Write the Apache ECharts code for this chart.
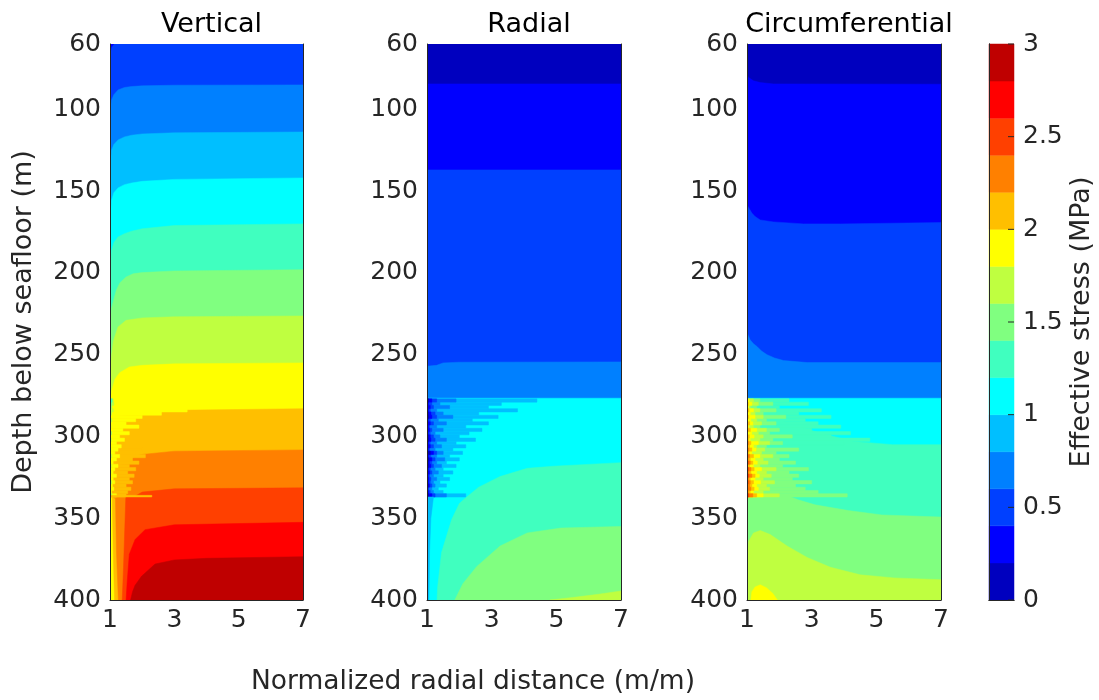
<!DOCTYPE html>
<html><head><meta charset="utf-8">
<script src="https://cdn.jsdelivr.net/npm/echarts@6/dist/echarts.min.js"></script>
<style>html,body{margin:0;padding:0;background:#fff}#c{width:1099px;height:700px}</style>
</head><body><div id="c"></div>
<script>
// ================= DATA =================
const panelTitles = ['Vertical', 'Radial', 'Circumferential'];
const xTicks = [1, 3, 5, 7];
const depthTicks = [60, 100, 150, 200, 250, 300, 350, 400];
const stressEdges = [0, 0.2, 0.4, 0.6, 0.8, 1.0, 1.2, 1.4, 1.6, 1.8, 2.0, 2.2, 2.4, 2.6, 2.8, 3.0];
const stressTicks = [0, 0.5, 1, 1.5, 2, 2.5, 3];
const xLabel = 'Normalized radial distance (m/m)';
const yLabel = 'Depth below seafloor (m)';
const cLabel = 'Effective stress (MPa)';

// depth slices of the noisy zone (m)
const noiseDepths = [277,279,281,283,285,287,289,291,293,295,297,299,301,303,305,307,309,311,313,315,317,319,321,323,325,327,329,331,333,335,337];

// ---- Vertical: upper contour edges [x, depth]; band level below each edge
const vertEdgeLevels = [3, 4, 5, 6, 7, 8, 9, 10, 11, 12, 13, 14, 15];
const vertEdges = [
  [[1,60],[7,60]],
  [[1,100],[1.05,94.2],[1.12,91],[1.25,88.1],[1.45,86.6],[1.67,86],[2,85.6],[3,85.2],[7,85]],
  [[1,135],[1.05,124.8],[1.12,121.5],[1.25,118.7],[1.45,116.8],[1.67,115.8],[2,115],[3,114.3],[7,113.8]],
  [[1,168],[1.05,155.4],[1.12,151],[1.25,148],[1.45,146],[1.67,145],[2,144],[3,142.8],[7,141.9]],
  [[1,198],[1.05,186],[1.12,181.5],[1.25,178],[1.45,176],[1.67,174.5],[2,173],[3,171],[7,170]],
  [[1,235],[1.04,222],[1.08,219],[1.2,210.4],[1.31,206],[1.5,202.5],[1.72,200.5],[2,199.8],[3,198.8],[7,198]],
  [[1,262],[1.05,250],[1.1,242],[1.25,233],[1.5,229],[2,227.5],[3,226.8],[7,226.3]],
  [[1.04,400],[1.02,360],[1.01,338],[1,337],[1,280],[1.05,272],[1.15,265],[1.3,261],[1.6,257.5],[2,256.5],[3,255.6],[7,255]],
  [[1.14,400],[1.1,370],[1.07,338],[1.02,336],[1.02,288],[1.5,287],[2,285.5],[3,284],[7,283]],
  [[1.26,400],[1.2,370],[1.17,338],[1.04,336.5],[1.04,318],[1.47,317],[1.78,312],[2,311],[3,309],[7,308.2]],
  [[1.38,400],[1.42,380],[1.47,350],[1.49,338],[1.49,337],[1.78,336.5],[2,334],[3,332],[7,331.4]],
  [[1.5,400],[1.53,390],[1.6,372],[1.78,363],[2.09,357],[3,354],[7,352.5]],
  [[1.64,400],[1.7,395],[1.78,391],[1.98,385.5],[2.4,378],[3,375.5],[4,374.5],[7,373.5]]
];
const vertPatchLevels = [2, 11];
const vertPatches = [
  [[1,60],[1.12,60],[1.04,62],[1,66]],
  [[1,336],[2.3,336],[2.3,337],[1,337]]
];
const vertNoiseLevels = [11, 10, 9, 8, 7];
const vertNoiseEnds = [
  [0,0,0,0,0,0,0,0,0,0,0,0,0,0,0,2.0,1.8,2.1,1.7,1.9,1.6,1.8,1.55,1.75,1.6,1.7,1.5,1.65,1.55,1.5],
  [0,0,0,3.4,2.6,2.0,1.8,1.5,1.9,1.4,1.6,1.3,1.45,1.2,1.35,1.25,1.15,1.3,1.2,1.1,1.25,1.15,1.1,1.2,1.1,1.15,1.08,1.12,1.05,1.2],
  [1.1,1.12,1.06,1.1,1.04,0,1.06,0,1.03,0,1.05,0,1.04,0,0,1.03,0,1.05,0,0,1.04,0,1.03,0,0,1.05,0,0,1.03,1.06],
  [1.08,1.05,1.04,0,1.03,0,0,1.02,0,0,1.03,0,0,0,0,0,1.02,0,0,0,0,1.02,0,0,0,0,0,0,0,0],
  [1.05,1.03,0,0,0,0,0,0,0,0,0,0,0,0,0,0,0,0,0,0,0,0,0,0,0,0,0,0,0,0]
];

// ---- Radial
const radEdgeLevels = [1, 2, 3, 4, 6, 7, 8, 9];
const radEdges = [
  [[1,60],[7,60]],
  [[1,84.4],[7,84.4]],
  [[1,137],[7,137]],
  [[1,257],[1.3,256.5],[1.5,255],[2,254.6],[7,254.4]],
  [[1,276.6],[7,276.6]],
  [[1.31,400],[1.33,392],[1.45,371],[1.76,351],[2,341],[2.2,337.5],[2.6,331],[3.26,324.5],[4.1,319.5],[4.9,318.2],[7,316]],
  [[1.86,400],[2.11,390],[2.54,379.5],[3.26,367],[4.1,359],[5.14,356],[7,355]],
  [[4.8,400],[5.5,398.5],[6.3,396.5],[7,394.5]]
];
const radPatchLevels = [5];
const radPatches = [ [[1,337],[1.2,337],[1.12,350],[1.08,370],[1.06,400],[1,400]] ];
const radNoiseLevels = [5, 4, 3, 2, 1];
const radNoiseEnds = [
  [4.4,3.3,2.9,3.8,2.6,3.2,2.4,2.9,2.2,2.7,2.3,2.0,2.5,1.9,2.2,1.8,2.1,1.7,2.0,1.6,1.9,1.5,1.8,1.5,1.7,1.4,1.6,1.35,1.5,2.2],
  [1.9,1.4,1.7,1.3,1.5,1.8,1.35,1.6,1.3,1.5,1.25,1.4,1.6,1.3,1.45,1.25,1.5,1.3,1.55,1.3,1.45,1.25,1.35,1.2,1.3,1.2,1.25,1.15,1.2,1.6],
  [1.3,1.15,1.2,1.1,1.25,1.3,1.1,1.2,1.08,1.15,1.1,1.2,1.25,1.1,1.2,1.08,1.3,1.12,1.25,1.15,1.2,1.1,1.15,1.08,1.12,1.1,1.15,1.05,1.1,1.25],
  [1.15,1.05,1.1,1.05,1.12,1.15,1.04,1.1,1.05,1.08,1.04,1.1,1.12,1.05,1.1,1.04,1.2,1.06,1.15,1.08,1.12,1.05,1.08,1.04,1.06,1.05,1.08,1.03,1.05,1.15],
  [1.05,0,1.03,0,1.04,1.06,0,1.03,0,0,0,1.04,1.05,0,1.03,0,1.1,0,1.06,1.04,1.05,0,1.03,0,0,0,1.04,0,0,1.05]
];

// ---- Circumferential
const circEdgeLevels = [1, 2, 3, 4, 6, 7, 8, 9];
const circEdges = [
  [[1,60],[7,60]],
  [[1,79],[1.05,80.5],[1.2,82.5],[1.41,83.6],[1.82,84.4],[7,84.6]],
  [[1,158.4],[1.08,161],[1.15,163.4],[1.25,165.5],[1.41,167.6],[1.82,168.8],[2.75,170],[3.9,170],[7,169.2]],
  [[1,236.7],[1.1,241],[1.2,243.3],[1.31,245],[1.45,247.8],[1.62,250],[1.85,252],[2.13,253.6],[2.86,254.8],[7,254.8]],
  [[1,276.6],[7,276.6]],
  [[1,280],[1.3,281],[1.72,285.6],[2.24,291.8],[3.27,298],[4.3,303],[5.5,305],[7,305]],
  [[1,336],[2.3,336.5],[2.58,338.7],[3.1,341.8],[4.13,345.3],[5.17,348],[7,349.3]],
  [[1,385],[1.02,372],[1.05,364],[1.2,359],[1.41,357.5],[1.72,360],[2.24,367],[2.86,374],[3.58,380],[4.5,384.6],[5.55,386.5],[7,387.6]]
];
const circPatchLevels = [10];
const circPatches = [ [[1.12,400],[1.15,395],[1.25,392],[1.41,390.7],[1.6,392.5],[1.8,396],[1.94,400]] ];
const circNoiseLevels = [7, 8, 9, 10, 11, 12, 13];
const circNoiseEnds = [
  [2.3,2.9,2.0,3.3,2.6,3.6,2.8,3.2,3.9,3.0,4.2,3.6,4.8,4.0,0,0,0,0,0,0,0,0,0,0,0,0,0,0,0,0],
  [1.4,1.8,1.3,1.9,1.5,2.2,1.6,1.9,1.4,2.0,1.7,2.4,1.8,2.1,1.6,2.6,1.9,2.3,2.0,2.5,2.1,2.9,2.3,2.6,2.4,3.0,2.5,2.8,3.2,4.1],
  [1.2,1.35,1.1,1.4,1.25,1.5,1.3,1.45,1.2,1.6,1.35,1.5,1.4,1.7,1.3,1.55,1.45,1.8,1.5,1.65,1.4,1.9,1.6,1.75,1.5,1.85,1.6,1.7,1.5,2.0],
  [1.08,1.15,1.05,1.2,1.1,1.25,1.12,1.18,1.06,1.3,1.15,1.22,1.1,1.35,1.2,1.28,1.15,1.4,1.25,1.32,1.2,1.45,1.3,1.38,1.25,1.42,1.3,1.35,1.2,1.5],
  [0,1.04,0,1.06,0,1.05,0,1.08,1.03,1.1,0,1.07,1.05,1.12,1.08,1.15,1.06,1.2,1.1,1.18,1.08,1.22,1.12,1.25,1.1,1.2,1.15,1.22,1.1,1.3],
  [0,0,0,0,0,0,0,0,0,1.03,0,0,0,1.05,0,1.06,0,1.08,1.04,1.1,0,1.12,1.06,1.15,1.05,1.1,1.08,1.12,1.04,1.18],
  [0,0,0,0,0,0,0,0,0,0,0,0,0,0,0,0,0,1.03,0,1.04,0,1.05,0,1.06,0,1.04,0,1.03,0,1.06]
];

// ================= STYLE / BUILD =================
const jet = ['#0000bf','#0000ff','#0040ff','#0080ff','#00bfff','#00ffff','#40ffbf','#80ff80','#bfff40','#ffff00','#ffbf00','#ff8000','#ff4000','#ff0000','#bf0000'];
const FONT = 'DejaVu Sans';
const AX = '#262626';
const grids = [
  {left: 110, top: 44, width: 193, height: 556},
  {left: 427, top: 44, width: 194, height: 556},
  {left: 747, top: 44, width: 194, height: 556},
  {left: 989, top: 44, width: 25, height: 556}
];

function buildPolys(edges, edgeLevels, patches, patchLevels, noiseLevels, noiseEnds) {
  const polys = [];
  edges.forEach((e, i) => {
    const pts = e.slice();
    pts.push([7, 400], [e[0][0], 400]);
    polys.push({level: edgeLevels[i], pts});
  });
  noiseLevels.forEach((lv, k) => {
    noiseEnds[k].forEach((xe, j) => {
      if (xe > 1) {
        const d0 = noiseDepths[j], d1 = noiseDepths[j + 1];
        polys.push({level: lv, pts: [[1, d0], [xe, d0], [xe, d1], [1, d1]]});
      }
    });
  });
  patches.forEach((p, i) => polys.push({level: patchLevels[i], pts: p}));
  return polys;
}

function panelSeries(gi, polys) {
  return {
    type: 'custom', coordinateSystem: 'cartesian2d', xAxisIndex: gi, yAxisIndex: gi,
    clip: true, silent: true, animation: false, z: 2,
    data: polys.map(p => p.pts[0]),
    renderItem: (params, api) => {
      const p = polys[params.dataIndex];
      const c = jet[p.level - 1];
      return {type: 'polygon', shape: {points: p.pts.map(q => api.coord(q))},
        style: {fill: c, stroke: c, lineWidth: 0.5}};
    }
  };
}

const panels = [
  buildPolys(vertEdges, vertEdgeLevels, vertPatches, vertPatchLevels, vertNoiseLevels, vertNoiseEnds),
  buildPolys(radEdges, radEdgeLevels, radPatches, radPatchLevels, radNoiseLevels, radNoiseEnds),
  buildPolys(circEdges, circEdgeLevels, circPatches, circPatchLevels, circNoiseLevels, circNoiseEnds)
];

const labelStyle = {fontFamily: FONT, fontSize: 25, color: AX};
const xAxes = [], yAxes = [], series = [], titles = [];
for (let g = 0; g < 3; g++) {
  xAxes.push({gridIndex: g, type: 'value', min: 1, max: 7, interval: 2, z: 10,
    axisLine: {show: true, lineStyle: {color: AX, width: 1}}, axisTick: {show: false},
    splitLine: {show: false}, axisLabel: Object.assign({margin: 8, customValues: xTicks}, labelStyle)});
  yAxes.push({gridIndex: g, type: 'value', inverse: true, min: 60, max: 400, z: 10,
    axisLine: {show: true, lineStyle: {color: AX, width: 1}},
    axisTick: {show: false}, splitLine: {show: false},
    axisLabel: Object.assign({margin: 9, customValues: depthTicks}, labelStyle),
    name: g === 0 ? yLabel : '', nameLocation: 'middle', nameGap: 73, nameRotate: 90,
    nameTextStyle: {fontFamily: FONT, fontSize: 27, color: AX}});
  series.push(panelSeries(g, panels[g]));
  titles.push({text: panelTitles[g], left: grids[g].left + grids[g].width / 2, top: 6, textAlign: 'center',
    textStyle: {fontFamily: FONT, fontSize: 27, fontWeight: 'normal', color: '#000'}});
}
// right border lines of panels
const yRight = [];
for (let g = 0; g < 3; g++) {
  yRight.push({gridIndex: g, type: 'value', position: 'right', inverse: true, min: 60, max: 400, z: 10,
    axisLine: {show: true, lineStyle: {color: AX, width: 1}}, axisTick: {show: false},
    axisLabel: {show: false}, splitLine: {show: false}});
}
// colorbar axes
xAxes.push({gridIndex: 3, type: 'value', min: 0, max: 1, z: 10, axisLine: {show: true, lineStyle: {color: AX}},
  axisTick: {show: false}, axisLabel: {show: false}, splitLine: {show: false}});
xAxes.push({gridIndex: 3, type: 'value', position: 'top', min: 0, max: 1, z: 10, axisLine: {show: true, lineStyle: {color: AX}},
  axisTick: {show: false}, axisLabel: {show: false}, splitLine: {show: false}});
const cbY = {gridIndex: 3, type: 'value', position: 'right', min: 0, max: 3, interval: 0.5, z: 10,
  axisLine: {show: true, lineStyle: {color: AX}},
  axisTick: {show: false},
  axisLabel: Object.assign({margin: 9, customValues: stressTicks, formatter: v => String(v)}, labelStyle),
  splitLine: {show: false},
  name: cLabel, nameLocation: 'middle', nameGap: 54, nameRotate: 90,
  nameTextStyle: {fontFamily: FONT, fontSize: 27, color: AX}};
const cbYLeft = {gridIndex: 3, type: 'value', position: 'left', min: 0, max: 3, z: 10,
  axisLine: {show: true, lineStyle: {color: AX}}, axisTick: {show: false}, axisLabel: {show: false}, splitLine: {show: false}};

// colour bar blocks
series.push({
  type: 'custom', coordinateSystem: 'cartesian2d', xAxisIndex: 3, yAxisIndex: 6, silent: true, animation: false, z: 2,
  data: stressEdges.slice(0, -1).map((e, i) => [0.5, (e + stressEdges[i + 1]) / 2]),
  renderItem: (params, api) => {
    const i = params.dataIndex;
    const a = api.coord([0, stressEdges[i]]), b = api.coord([1, stressEdges[i + 1]]);
    return {type: 'rect', shape: {x: a[0], y: b[1], width: b[0] - a[0], height: a[1] - b[1]},
      style: {fill: jet[i], stroke: jet[i], lineWidth: 0.5}};
  }
});
// colour bar tick marks (inside, on the right edge)
series.push({
  type: 'custom', coordinateSystem: 'cartesian2d', xAxisIndex: 3, yAxisIndex: 6, silent: true, animation: false, z: 20,
  data: stressTicks.map(t => [1, t]),
  renderItem: (params, api) => {
    const p = api.coord([1, stressTicks[params.dataIndex]]);
    return {type: 'line', shape: {x1: p[0] - 6, y1: p[1], x2: p[0], y2: p[1]},
      style: {stroke: AX, lineWidth: 1}};
  }
});

titles.push({text: xLabel, left: 468, top: 664, textAlign: 'center',
  textStyle: {fontFamily: FONT, fontSize: 26.5, fontWeight: 'normal', color: AX}});

const chart = echarts.init(document.getElementById('c'), null, {renderer: 'canvas'});
chart.setOption({
  animation: false,
  backgroundColor: '#fff',
  title: titles,
  grid: grids,
  xAxis: xAxes,
  yAxis: yAxes.concat(yRight, [cbY, cbYLeft]),
  series: series
});
</script></body></html>
